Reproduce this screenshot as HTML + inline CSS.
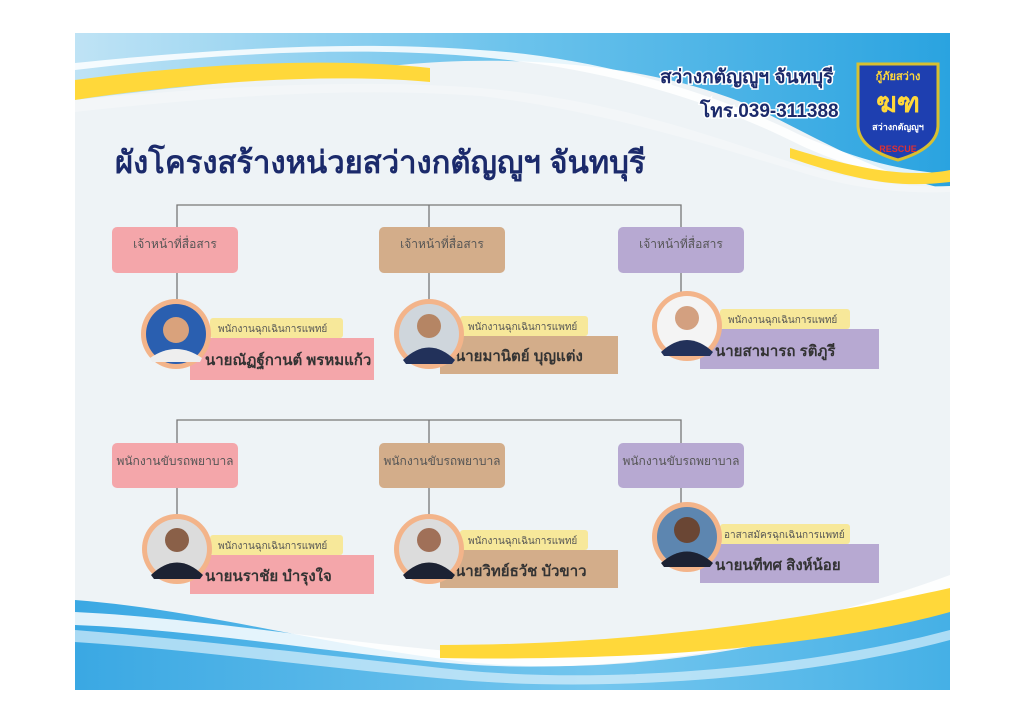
<!DOCTYPE html>
<html><head><meta charset="utf-8"><style>
body{margin:0;background:#fff;}
svg{display:block;font-family:"Liberation Sans","DejaVu Sans",sans-serif;}
</style></head><body>
<svg width="1024" height="724" viewBox="0 0 1024 724" xmlns="http://www.w3.org/2000/svg">
<defs>
<linearGradient id="tb" x1="0" y1="0" x2="1" y2="0"><stop offset="0" stop-color="#bfe3f5"/><stop offset="0.5" stop-color="#6cc3ec"/><stop offset="1" stop-color="#2aa3e0"/></linearGradient>
<linearGradient id="bb" x1="0" y1="0" x2="1" y2="0"><stop offset="0" stop-color="#3aa8e3"/><stop offset="0.6" stop-color="#74c6ee"/><stop offset="1" stop-color="#45b0e6"/></linearGradient>
<clipPath id="slide"><rect x="75" y="33" width="875" height="657"/></clipPath>
</defs>
<rect x="75" y="33" width="875" height="657" fill="#eef3f6"/>
<g clip-path="url(#slide)">
<path d="M75 33 H950 V190 C880 175 820 140 760 110 C650 60 500 55 400 65 C250 80 150 90 75 100 Z" fill="url(#tb)"/>
<path d="M75 70 C200 55 350 45 480 57 C620 70 720 105 800 145 C860 173 910 180 950 180 V174 C900 171 860 160 800 135 C720 95 600 57 480 50 C350 40 200 50 75 63 Z" fill="#fff" opacity="0.85"/>
<path d="M75 80 C180 66 320 56 430 68 L430 82 C320 72 180 84 75 100 Z" fill="#ffd83a"/>
<path d="M75 100 C200 88 350 78 480 88 C620 100 720 140 800 165 C860 182 910 188 950 186 V192 C900 194 850 188 800 172 C720 148 600 110 480 96 C350 86 200 98 75 112 Z" fill="#f3f6f8"/>
<path d="M790 148 C860 170 910 178 950 170 V182 C900 188 860 182 790 158 Z" fill="#ffd83a"/>
<path d="M75 600 C200 610 300 640 450 660 C600 680 800 650 950 590 V690 H75 Z" fill="url(#bb)"/>
<path d="M75 612 C200 618 320 640 460 652 C620 665 800 630 950 575 V590 C800 645 620 676 460 664 C320 652 200 630 75 625 Z" fill="#fff" opacity="0.85"/>
<path d="M440 645 C650 645 830 615 950 588 V612 C850 640 680 662 440 658 Z" fill="#ffd83a"/>
<path d="M75 630 C200 640 320 655 460 670 C600 684 800 670 950 630 V640 C800 680 600 692 460 680 C320 668 200 650 75 642 Z" fill="#d8f0fb" opacity="0.7"/>
</g>
<g font-weight="bold" fill="#1b2a6b" stroke="#fff" stroke-width="3" paint-order="stroke" font-size="19">
<text x="660" y="83">สว่างกตัญญูฯ จันทบุรี</text>
<text x="700" y="117">โทร.039-311388</text>
</g>
<path d="M858 64 H938 V125 C938 145 915 155 898 160 C880 155 858 145 858 125 Z" fill="#1e3fb0" stroke="#d8c030" stroke-width="3"/>
<text x="898" y="80" font-size="11" font-weight="bold" fill="#ffd83a" text-anchor="middle">กู้ภัยสว่าง</text>
<text x="898" y="112" font-size="28" font-weight="bold" fill="#ffd83a" text-anchor="middle">ฆฑ</text>
<text x="898" y="130" font-size="9" font-weight="bold" fill="#fff" text-anchor="middle">สว่างกตัญญูฯ</text>
<text x="898" y="152" font-size="9" font-weight="bold" fill="#e03030" text-anchor="middle">RESCUE</text>
<text x="115" y="173" font-size="31" font-weight="bold" fill="#1b2a6b">ผังโครงสร้างหน่วยสว่างกตัญญูฯ จันทบุรี</text>
<g stroke="#777" stroke-width="1.3" fill="none">
<path d="M177 227 V205 H681 V227 M429 205 V227"/>
<path d="M177 273 V300 M429 273 V300 M681 273 V292"/>
<path d="M177 443 V420 H681 V443 M429 420 V443"/>
<path d="M177 488 V515 M429 488 V515 M681 488 V503"/>
</g>
<g font-size="12" text-anchor="middle" fill="#555">
<rect x="112" y="227" width="126" height="46" rx="5" fill="#f4a6aa"/><text x="175" y="248">เจ้าหน้าที่สื่อสาร</text>
<rect x="379" y="227" width="126" height="46" rx="5" fill="#d3ad8a"/><text x="442" y="248">เจ้าหน้าที่สื่อสาร</text>
<rect x="618" y="227" width="126" height="46" rx="5" fill="#b7a9d2"/><text x="681" y="248">เจ้าหน้าที่สื่อสาร</text>
<rect x="112" y="443" width="126" height="45" rx="5" fill="#f4a6aa"/><text x="175" y="465">พนักงานขับรถพยาบาล</text>
<rect x="379" y="443" width="126" height="45" rx="5" fill="#d3ad8a"/><text x="442" y="465">พนักงานขับรถพยาบาล</text>
<rect x="618" y="443" width="126" height="45" rx="5" fill="#b7a9d2"/><text x="681" y="465">พนักงานขับรถพยาบาล</text>
</g>
<g font-size="10" fill="#555">
<rect x="190" y="338" width="184" height="42" fill="#f4a6aa"/>
<rect x="210" y="318" width="133" height="20" rx="3" fill="#f7e89a"/>
<text x="218" y="332">พนักงานฉุกเฉินการแพทย์</text>
<text x="205" y="365" font-size="15" font-weight="bold" fill="#333">นายณัฏฐ์กานต์ พรหมแก้ว</text>
<circle cx="176" cy="334" r="35" fill="#f3b48a"/><circle cx="176" cy="334" r="30" fill="#2a5fb0"/><circle cx="176" cy="330" r="13" fill="#d9a27c"/><path d="M150 358 Q176 340 202 358 L200 362 H152Z" fill="#eee"/>

<rect x="440" y="336" width="178" height="38" fill="#d3ad8a"/>
<rect x="460" y="316" width="128" height="20" rx="3" fill="#f7e89a"/>
<text x="468" y="330">พนักงานฉุกเฉินการแพทย์</text>
<text x="455" y="361" font-size="15" font-weight="bold" fill="#333">นายมานิตย์ บุญแต่ง</text>
<circle cx="429" cy="334" r="35" fill="#f3b48a"/><circle cx="429" cy="334" r="30" fill="#cfd6dc"/><circle cx="429" cy="326" r="12" fill="#b58564"/><path d="M403 360 Q429 335 455 360 L452 364 H406Z" fill="#22315a"/>

<rect x="700" y="329" width="179" height="40" fill="#b7a9d2"/>
<rect x="720" y="309" width="130" height="20" rx="3" fill="#f7e89a"/>
<text x="728" y="323">พนักงานฉุกเฉินการแพทย์</text>
<text x="715" y="356" font-size="15" font-weight="bold" fill="#333">นายสามารถ รติภูรี</text>
<circle cx="687" cy="326" r="35" fill="#f3b48a"/><circle cx="687" cy="326" r="30" fill="#f4f4f4"/><circle cx="687" cy="318" r="12" fill="#d3a080"/><path d="M661 352 Q687 328 713 352 L710 356 H664Z" fill="#22315a"/>

<rect x="190" y="555" width="184" height="39" fill="#f4a6aa"/>
<rect x="210" y="535" width="133" height="20" rx="3" fill="#f7e89a"/>
<text x="218" y="549">พนักงานฉุกเฉินการแพทย์</text>
<text x="205" y="581" font-size="15" font-weight="bold" fill="#333">นายนราชัย บำรุงใจ</text>
<circle cx="177" cy="549" r="35" fill="#f3b48a"/><circle cx="177" cy="549" r="30" fill="#dcdcdc"/><circle cx="177" cy="540" r="12" fill="#8a6048"/><path d="M151 575 Q177 550 203 575 L200 579 H154Z" fill="#1c2233"/>

<rect x="440" y="550" width="178" height="38" fill="#d3ad8a"/>
<rect x="460" y="530" width="128" height="20" rx="3" fill="#f7e89a"/>
<text x="468" y="544">พนักงานฉุกเฉินการแพทย์</text>
<text x="455" y="576" font-size="15" font-weight="bold" fill="#333">นายวิทย์ธวัช บัวขาว</text>
<circle cx="429" cy="549" r="35" fill="#f3b48a"/><circle cx="429" cy="549" r="30" fill="#dcdcdc"/><circle cx="429" cy="540" r="12" fill="#a07058"/><path d="M403 575 Q429 550 455 575 L452 579 H406Z" fill="#1c2233"/>

<rect x="700" y="544" width="179" height="39" fill="#b7a9d2"/>
<rect x="720" y="524" width="130" height="20" rx="3" fill="#f7e89a"/>
<text x="724" y="538">อาสาสมัครฉุกเฉินการแพทย์</text>
<text x="715" y="570" font-size="15" font-weight="bold" fill="#333">นายนทีทศ สิงห์น้อย</text>
<circle cx="687" cy="537" r="35" fill="#f3b48a"/><circle cx="687" cy="537" r="30" fill="#5d86b0"/><circle cx="687" cy="530" r="13" fill="#6a4634"/><path d="M661 563 Q687 540 713 563 L710 567 H664Z" fill="#1c2233"/>
</g>
</svg>
</body></html>
